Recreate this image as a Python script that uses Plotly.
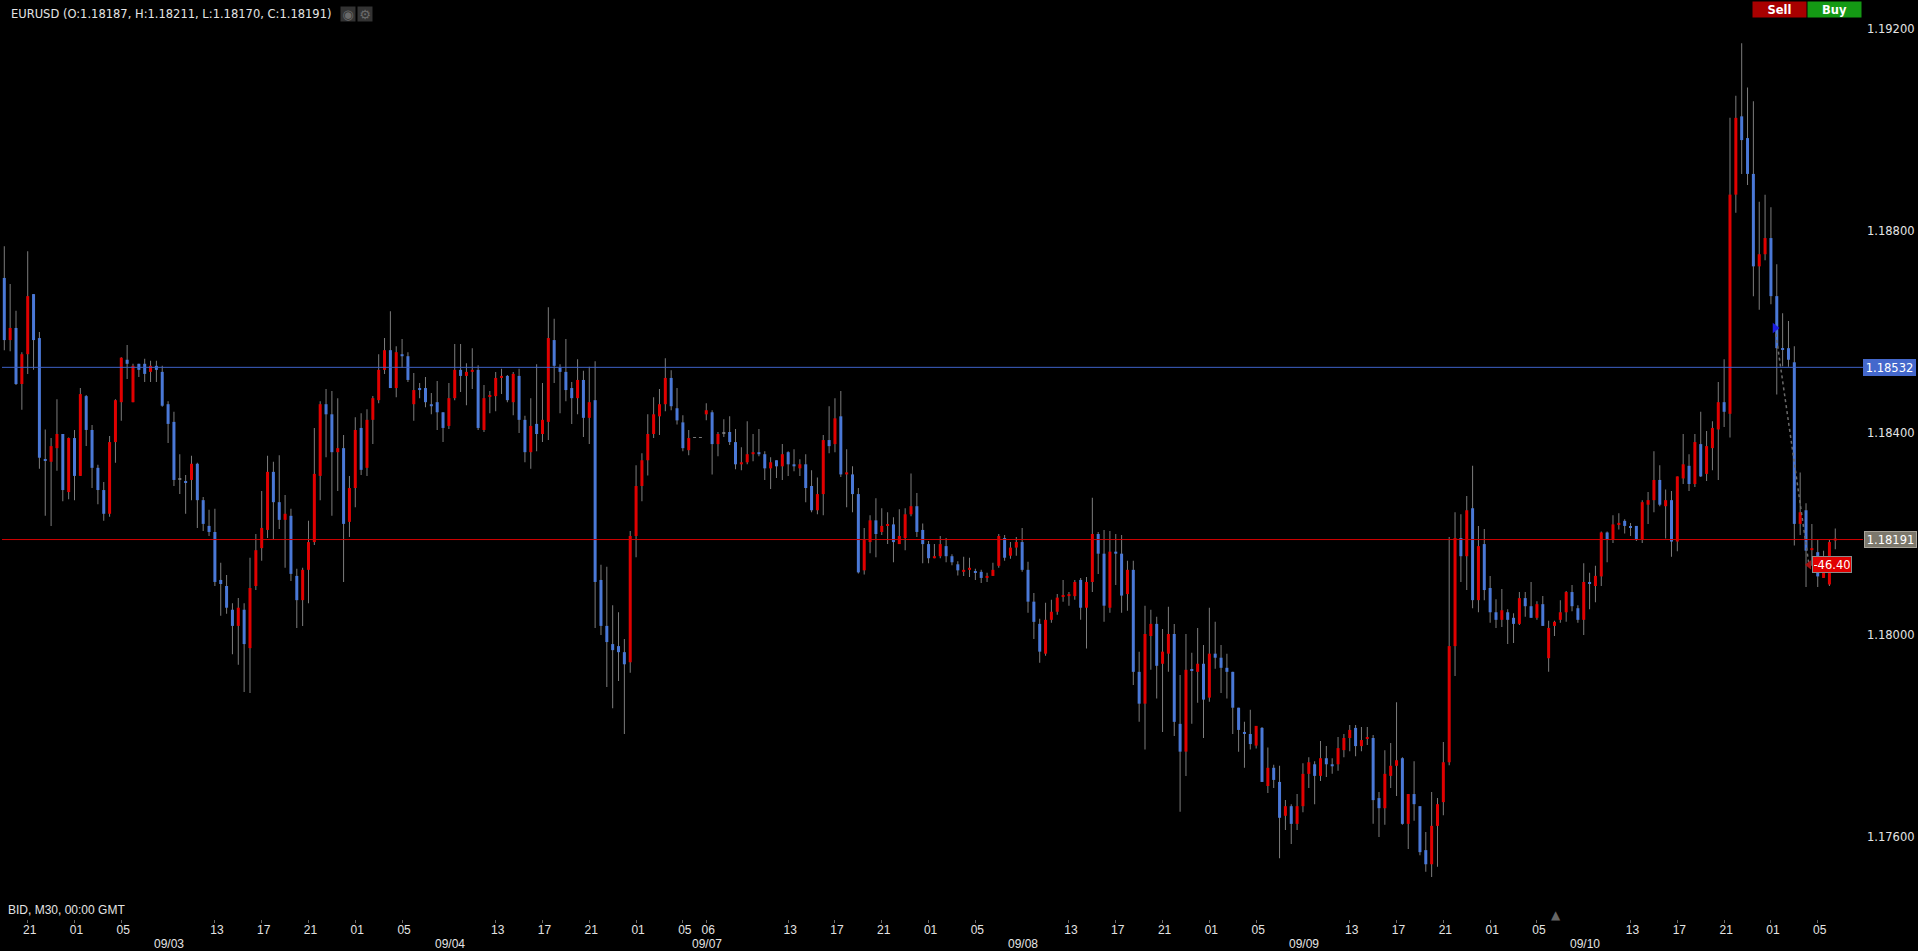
"""
EURUSD M30 candlestick chart, dark terminal style
"""
import numpy as np
import plotly.graph_objects as go

# prices in points (1.18191 -> 118191), one entry per 30 minute bar
opens = [
    118707, 118584, 118608, 118497, 118556, 118675, 118588, 118347, 118343, 118370,
    118398, 118283, 118390, 118315, 118473, 118406, 118331, 118287, 118240, 118382,
    118461, 118545, 118461, 118537, 118537, 118521, 118533, 118521, 118457, 118422,
    118308, 118303, 118307, 118339, 118267, 118216, 118204, 118109, 118097, 118050,
    118018, 118050, 117974, 118097, 118172, 118208, 118323, 118263, 118228, 118236,
    118117, 118069, 118129, 118184, 118315, 118457, 118437, 118362, 118370, 118224,
    118291, 118410, 118331, 118426, 118465, 118525, 118564, 118489, 118556, 118552,
    118457, 118489, 118489, 118457, 118461, 118441, 118414, 118469, 118525, 118513,
    118521, 118525, 118406, 118473, 118473, 118509, 118513, 118461, 118513, 118426,
    118362, 118418, 118398, 118422, 118584, 118529, 118521, 118489, 118469, 118505,
    118430, 118465, 118109, 118018, 117982, 117978, 117966, 117946, 118196, 118295,
    118346, 118398, 118433, 118457, 118509, 118449, 118421, 118366, 118391, 118391,
    118437, 118441, 118378, 118399, 118402, 118382, 118338, 118342, 118358, 118362,
    118358, 118330, 118346, 118334, 118362, 118338, 118330, 118338, 118295, 118247,
    118279, 118386, 118378, 118433, 118318, 118318, 118279, 118128, 118184, 118227,
    118204, 118216, 118219, 118180, 118192, 118239, 118255, 118208, 118180, 118152,
    118156, 118176, 118156, 118140, 118125, 118129, 118125, 118125, 118113, 118117,
    118137, 118192, 118157, 118173, 118184, 118129, 118066, 118022, 117963, 118030,
    118046, 118077, 118077, 118077, 118109, 118054, 118105, 118200, 118161, 118054,
    118165, 118161, 118081, 118129, 117927, 117864, 117998, 118022, 117943, 117963,
    118002, 117824, 117769, 117931, 117927, 117943, 117876, 117963, 117955, 117935,
    117927, 117856, 117808, 117804, 117781, 117816, 117701, 117737, 117709, 117642,
    117661, 117626, 117661, 117725, 117744, 117721, 117756, 117744, 117744, 117772,
    117796, 117816, 117780, 117796, 117796, 117677, 117657, 117721, 117741, 117756,
    117626, 117685, 117661, 117574, 117546, 117622, 117669, 117748, 117978, 118192,
    118156, 118251, 118069, 118180, 118093, 118045, 118030, 118045, 118034, 118022,
    118073, 118057, 118034, 118061, 117954, 118018, 118030, 118045, 118085, 118053,
    118030, 118105, 118097, 118116, 118203, 118190, 118219, 118226, 118215, 118216,
    118190, 118258, 118267, 118307, 118255, 118267, 118185, 118310, 118335, 118299,
    118378, 118319, 118370, 118407, 118461, 118438, 118872, 119027, 118984, 118913,
    118730, 118754, 118786, 118671, 118568, 118568, 118540, 118220, 118247, 118168,
    118164, 118113, 118100, 118187,
]
highs = [
    118770, 118695, 118642, 118560, 118760, 118675, 118600, 118407, 118390, 118467,
    118398, 118391, 118406, 118489, 118475, 118416, 118337, 118303, 118394, 118467,
    118550, 118574, 118537, 118537, 118547, 118543, 118543, 118533, 118463, 118442,
    118358, 118317, 118355, 118341, 118273, 118248, 118250, 118143, 118119, 118063,
    118073, 118063, 118153, 118200, 118285, 118355, 118343, 118356, 118277, 118250,
    118131, 118133, 118226, 118410, 118463, 118487, 118483, 118469, 118396, 118315,
    118431, 118439, 118447, 118473, 118556, 118588, 118641, 118572, 118586, 118560,
    118519, 118499, 118511, 118479, 118503, 118441, 118499, 118576, 118576, 118538,
    118568, 118534, 118495, 118483, 118521, 118527, 118515, 118521, 118527, 118434,
    118469, 118536, 118499, 118649, 118626, 118536, 118586, 118501, 118546, 118523,
    118531, 118542, 118139, 118135, 118059, 118045, 117992, 118206, 118336, 118360,
    118437, 118471, 118487, 118548, 118524, 118489, 118435, 118406, 118392, 118392,
    118459, 118445, 118402, 118427, 118433, 118408, 118372, 118423, 118398, 118408,
    118364, 118352, 118346, 118378, 118364, 118368, 118348, 118358, 118326, 118312,
    118396, 118453, 118469, 118483, 118368, 118334, 118291, 118212, 118237, 118271,
    118251, 118243, 118233, 118249, 118251, 118320, 118281, 118221, 118186, 118180,
    118196, 118192, 118160, 118146, 118155, 118153, 118131, 118129, 118123, 118143,
    118200, 118198, 118184, 118194, 118212, 118145, 118083, 118032, 118064, 118070,
    118081, 118109, 118085, 118109, 118113, 118115, 118272, 118204, 118208, 118206,
    118200, 118198, 118147, 118147, 117967, 118058, 118050, 118036, 118012, 118056,
    118022, 117921, 118002, 117965, 118014, 117980, 118054, 118026, 117980, 117963,
    117927, 117856, 117828, 117852, 117820, 117818, 117777, 117743, 117741, 117673,
    117665, 117685, 117746, 117758, 117750, 117790, 117780, 117756, 117798, 117804,
    117822, 117822, 117818, 117818, 117802, 117689, 117772, 117786, 117867, 117758,
    117685, 117750, 117661, 117610, 117689, 117677, 117788, 118194, 118243, 118239,
    118275, 118335, 118216, 118210, 118117, 118071, 118091, 118051, 118043, 118085,
    118085, 118105, 118067, 118077, 118028, 118028, 118069, 118087, 118099, 118059,
    118142, 118123, 118137, 118205, 118205, 118237, 118241, 118229, 118222, 118216,
    118267, 118283, 118364, 118336, 118288, 118285, 118314, 118398, 118358, 118398,
    118442, 118404, 118423, 118501, 118546, 119024, 119068, 119172, 119084, 119057,
    118858, 118872, 118847, 118734, 118637, 118622, 118572, 118322, 118261, 118220,
    118188, 118167, 118188, 118211,
]
lows = [
    118564, 118562, 118495, 118446, 118517, 118525, 118329, 118236, 118216, 118325,
    118265, 118269, 118267, 118315, 118374, 118291, 118259, 118226, 118234, 118341,
    118424, 118507, 118461, 118511, 118501, 118501, 118501, 118452, 118380, 118295,
    118279, 118240, 118267, 118212, 118206, 118196, 118097, 118038, 118042, 117962,
    117941, 117887, 117885, 118089, 118147, 118192, 118190, 118210, 118133, 118107,
    118014, 118018, 118063, 118178, 118267, 118352, 118236, 118285, 118105, 118194,
    118253, 118317, 118315, 118378, 118459, 118517, 118489, 118471, 118529, 118501,
    118424, 118469, 118451, 118437, 118406, 118382, 118408, 118465, 118481, 118455,
    118487, 118406, 118402, 118439, 118443, 118477, 118461, 118435, 118400, 118342,
    118329, 118364, 118382, 118386, 118499, 118439, 118463, 118418, 118437, 118392,
    118378, 118014, 118000, 117897, 117855, 117909, 117804, 117925, 118154, 118265,
    118316, 118390, 118396, 118443, 118445, 118417, 118364, 118356, 118390, 118390,
    118425, 118318, 118354, 118392, 118376, 118328, 118326, 118338, 118344, 118354,
    118307, 118289, 118311, 118307, 118315, 118324, 118315, 118263, 118243, 118239,
    118237, 118360, 118362, 118313, 118253, 118243, 118122, 118120, 118162, 118154,
    118198, 118180, 118144, 118180, 118168, 118235, 118194, 118142, 118142, 118152,
    118152, 118144, 118138, 118118, 118117, 118115, 118109, 118103, 118105, 118117,
    118133, 118147, 118151, 118157, 118125, 118044, 117992, 117945, 117959, 118024,
    118040, 118066, 118058, 118070, 118030, 117973, 118085, 118121, 118026, 118044,
    118099, 118044, 118048, 117901, 117828, 117773, 117931, 117874, 117808, 117927,
    117800, 117650, 117721, 117824, 117866, 117796, 117868, 117933, 117885, 117874,
    117804, 117769, 117737, 117773, 117775, 117709, 117687, 117697, 117558, 117614,
    117586, 117614, 117649, 117697, 117665, 117711, 117719, 117725, 117731, 117758,
    117770, 117760, 117770, 117782, 117626, 117600, 117624, 117697, 117681, 117624,
    117576, 117632, 117564, 117531, 117521, 117541, 117643, 117742, 117919, 118105,
    118089, 118053, 118045, 118069, 118024, 118014, 118016, 117982, 117984, 118020,
    118036, 118034, 118030, 118018, 117927, 117998, 118024, 118026, 118047, 118024,
    118000, 118051, 118065, 118097, 118144, 118182, 118209, 118201, 118196, 118186,
    118182, 118220, 118243, 118255, 118191, 118155, 118166, 118299, 118285, 118293,
    118313, 118305, 118326, 118307, 118412, 118391, 118836, 118913, 118891, 118671,
    118644, 118742, 118655, 118476, 118532, 118531, 118177, 118198, 118095, 118137,
    118095, 118113, 118097, 118170,
]
closes = [
    118584, 118608, 118497, 118556, 118671, 118584, 118351, 118345, 118374, 118398,
    118287, 118390, 118315, 118477, 118406, 118331, 118287, 118240, 118382, 118465,
    118549, 118537, 118533, 118525, 118517, 118533, 118525, 118454, 118418, 118307,
    118308, 118301, 118339, 118267, 118220, 118204, 118105, 118101, 118054, 118018,
    118054, 117982, 118093, 118168, 118212, 118323, 118263, 118228, 118240, 118121,
    118069, 118129, 118184, 118319, 118457, 118437, 118362, 118370, 118220, 118291,
    118406, 118327, 118426, 118469, 118525, 118564, 118489, 118560, 118552, 118505,
    118485, 118485, 118461, 118453, 118441, 118410, 118469, 118525, 118513, 118521,
    118525, 118410, 118469, 118475, 118509, 118513, 118465, 118517, 118426, 118362,
    118414, 118398, 118426, 118588, 118533, 118521, 118485, 118469, 118505, 118430,
    118461, 118105, 118018, 117986, 117970, 117966, 117942, 118196, 118295, 118346,
    118398, 118437, 118457, 118509, 118453, 118425, 118370, 118390, 118391, 118391,
    118445, 118378, 118398, 118399, 118382, 118338, 118342, 118358, 118362, 118358,
    118330, 118342, 118334, 118358, 118338, 118334, 118338, 118291, 118247, 118279,
    118386, 118374, 118429, 118318, 118322, 118279, 118124, 118188, 118227, 118200,
    118216, 118219, 118184, 118196, 118239, 118255, 118204, 118180, 118152, 118156,
    118180, 118156, 118144, 118128, 118129, 118133, 118123, 118113, 118117, 118129,
    118196, 118153, 118173, 118184, 118129, 118066, 118026, 117967, 118030, 118046,
    118074, 118079, 118081, 118105, 118054, 118105, 118200, 118161, 118058, 118165,
    118161, 118078, 118129, 117927, 117864, 118002, 118022, 117939, 117967, 118002,
    117828, 117769, 117931, 117929, 117943, 117872, 117963, 117955, 117935, 117927,
    117856, 117812, 117804, 117784, 117820, 117709, 117737, 117713, 117638, 117661,
    117626, 117661, 117725, 117748, 117721, 117756, 117744, 117740, 117776, 117796,
    117812, 117780, 117792, 117798, 117673, 117657, 117725, 117741, 117752, 117626,
    117685, 117665, 117570, 117546, 117622, 117665, 117748, 117978, 118192, 118156,
    118247, 118069, 118176, 118089, 118045, 118030, 118049, 118030, 118022, 118073,
    118057, 118034, 118061, 118018, 118014, 118026, 118045, 118085, 118057, 118030,
    118105, 118101, 118117, 118203, 118190, 118219, 118222, 118216, 118212, 118190,
    118263, 118267, 118307, 118258, 118267, 118185, 118314, 118338, 118299, 118382,
    118314, 118374, 118410, 118461, 118442, 118872, 119024, 118980, 118913, 118730,
    118754, 118786, 118671, 118568, 118565, 118545, 118220, 118243, 118167, 118172,
    118116, 118146, 118184, 118191,
]

hour_bars = [4, 12, 20, 36, 44, 52, 60, 68, 84, 92, 100, 108, 116, 120, 134, 142, 150, 158,
             166, 182, 190, 198, 206, 214, 230, 238, 246, 254, 262, 278, 286, 294, 302, 310]
hour_labels = ["21", "01", "05", "13", "17", "21", "01", "05", "13", "17", "21", "01", "05", "06",
               "13", "17", "21", "01", "05", "13", "17", "21", "01", "05", "13", "17", "21", "01",
               "05", "13", "17", "21", "01", "05"]
date_bars = [28, 76, 120, 174, 222, 270]
date_labels = ["09/03", "09/04", "09/07", "09/08", "09/09", "09/10"]

price_ticks = [1.176, 1.18, 1.184, 1.188, 1.192]
price_labels = ["1.17600", "1.18000", "1.18400", "1.18800", "1.19200"]

# horizontal lines, with the texts of their tags
target_line = 1.18530
target_label = "1.18532"
last_line = 1.18189
last_label = "1.18191"

# open trade: entry, exit and running profit
trade_bars = [302.7, 308.5]
trade_prices = [1.18608, 1.18139]
trade_profit = "-46.40"

TITLE = "EURUSD (O:1.18187, H:1.18211, L:1.18170, C:1.18191)"
UP_COLOR = "#e00000"
DOWN_COLOR = "#4a78d6"
WICK_COLOR = "rgba(125,125,125,0.99)"
FLAT_COLOR = "#777777"
TEXT_COLOR = "#e4e4e4"
FONT_WIDE = "DejaVu Sans"
FONT_NARROW = "Liberation Sans"

bars = np.arange(len(opens))
o = np.array(opens) / 1e5
h = np.array(highs) / 1e5
l = np.array(lows) / 1e5
c = np.array(closes) / 1e5

colors = np.where(c > o, UP_COLOR, np.where(c < o, DOWN_COLOR, FLAT_COLOR))

fig = go.Figure()

# wicks, then bodies on top (the wick colour differs from the body colour)
fig.add_trace(go.Bar(
    x=bars, y=h - l, base=l, width=0.171,
    marker=dict(color=WICK_COLOR, line=dict(width=0)),
    hoverinfo="skip"
))
fig.add_trace(go.Bar(
    x=bars, y=np.maximum(np.abs(c - o), 0.00001), base=np.minimum(o, c), width=0.513,
    marker=dict(color=colors.tolist(), line=dict(width=0)),
    hoverinfo="skip"
))

# trade line with its two arrows
fig.add_trace(go.Scatter(
    x=trade_bars, y=trade_prices, mode="lines",
    line=dict(color="#6a6a6a", width=1.5, dash="dot"),
    hoverinfo="skip"
))
fig.add_trace(go.Scatter(
    x=trade_bars[:1], y=trade_prices[:1], mode="markers",
    marker=dict(symbol="triangle-right", size=9, color="#1c1ce0"),
    hoverinfo="skip"
))
fig.add_trace(go.Scatter(
    x=trade_bars[1:], y=trade_prices[1:], mode="markers",
    marker=dict(symbol="triangle-left", size=8, color="#a81010"),
    hoverinfo="skip"
))

fig.add_hline(y=target_line, line=dict(color="#3e62c8", width=1))
fig.add_hline(y=last_line, line=dict(color="#d00000", width=1))


def tag(text, x, y, bg, xref="paper", width=None, border=None):
    fig.add_annotation(
        text=text, x=x, y=y, xref=xref, yref="y",
        xanchor="left", yanchor="middle", showarrow=False, align="center",
        width=width, height=13, bgcolor=bg, borderpad=1,
        bordercolor=border or bg, borderwidth=1,
        font=dict(family=FONT_WIDE, size=11.5, color="#ffffff"),
    )


tag(target_label, 1.0, target_line, "#4468cc", width=49)
tag(last_label, 1.0005, last_line, "#7c786c", width=49, border="#a8a49a")
tag(trade_profit, 309, trade_prices[1], "#e00000", xref="x", width=36, border="#8a8a8a")

# title and bottom left caption
fig.add_annotation(
    text=TITLE, x=7 / 1861, y=1 - 14 / 919, xref="paper", yref="paper",
    showarrow=False, xanchor="left", yanchor="middle",
    font=dict(family=FONT_WIDE, size=11.5, color=TEXT_COLOR),
)
fig.add_annotation(
    text="BID, M30, 00:00 GMT", x=4 / 1861, y=1 - 910 / 919, xref="paper", yref="paper",
    showarrow=False, xanchor="left", yanchor="middle",
    font=dict(family=FONT_NARROW, size=12, color=TEXT_COLOR),
)

# eye and gear buttons next to the title
for px, glyph in zip([348, 365], ["◉", "⚙"]):
    fig.add_annotation(
        text=glyph, x=(px - 2) / 1861, y=1 - 14 / 919, xref="paper", yref="paper",
        showarrow=False, xanchor="center", yanchor="middle", width=14, height=14,
        bgcolor="#333333", borderpad=0, font=dict(family=FONT_WIDE, size=13, color="#6a6a6a"),
    )

# sell and buy buttons
for px, text, bg in zip([1779.5, 1834.5], ["Sell", "Buy"], ["#a80000", "#149914"]):
    fig.add_annotation(
        text=f"<b>{text}</b>", x=(px - 2) / 1861, y=1 - 9.5 / 919, xref="paper", yref="paper",
        showarrow=False, xanchor="center", yanchor="middle", width=53, height=15,
        bgcolor=bg, borderpad=0, font=dict(family=FONT_WIDE, size=11.5, color="#ffffff"),
    )

# date row under the hour labels
for bar, label in zip(date_bars, date_labels):
    fig.add_annotation(
        text=label, x=bar, y=0, xref="x", yref="paper", yshift=-25, xshift=1,
        showarrow=False, xanchor="center", yanchor="middle",
        font=dict(family=FONT_NARROW, size=12, color=TEXT_COLOR),
    )

# scroll marker on the time axis
fig.add_annotation(
    text="▲", x=265.2, y=1 - 915 / 919, xref="x", yref="paper",
    showarrow=False, xanchor="center", yanchor="middle",
    font=dict(family=FONT_WIDE, size=12, color="#666666"),
)

fig.update_layout(
    width=1918,
    height=951,
    margin=dict(l=2, r=55, t=0, b=32),
    paper_bgcolor="#000000",
    plot_bgcolor="#000000",
    barmode="overlay",
    showlegend=False,
    hovermode=False,
    xaxis=dict(
        range=[-0.393, 317.74],
        tickmode="array",
        tickvals=hour_bars,
        ticktext=hour_labels,
        ticks="outside",
        ticklen=3,
        tickcolor="#666666",
        tickfont=dict(family=FONT_NARROW, size=12, color=TEXT_COLOR),
        ticklabelstandoff=-3,
        ticklabelshift=2,
        showgrid=False,
        zeroline=False,
        showline=False,
    ),
    yaxis=dict(
        side="right",
        range=[1.174376, 1.192574],
        tickmode="array",
        tickvals=price_ticks,
        ticktext=price_labels,
        ticks="",
        tickfont=dict(family=FONT_WIDE, size=11.5, color=TEXT_COLOR),
        ticklabelstandoff=3,
        showgrid=False,
        zeroline=False,
        showline=False,
    ),
)

fig.write_html(
    "out.html",
    config={"displayModeBar": False},
    post_script="document.body.style.margin='0';document.body.style.background='#000';",
)
